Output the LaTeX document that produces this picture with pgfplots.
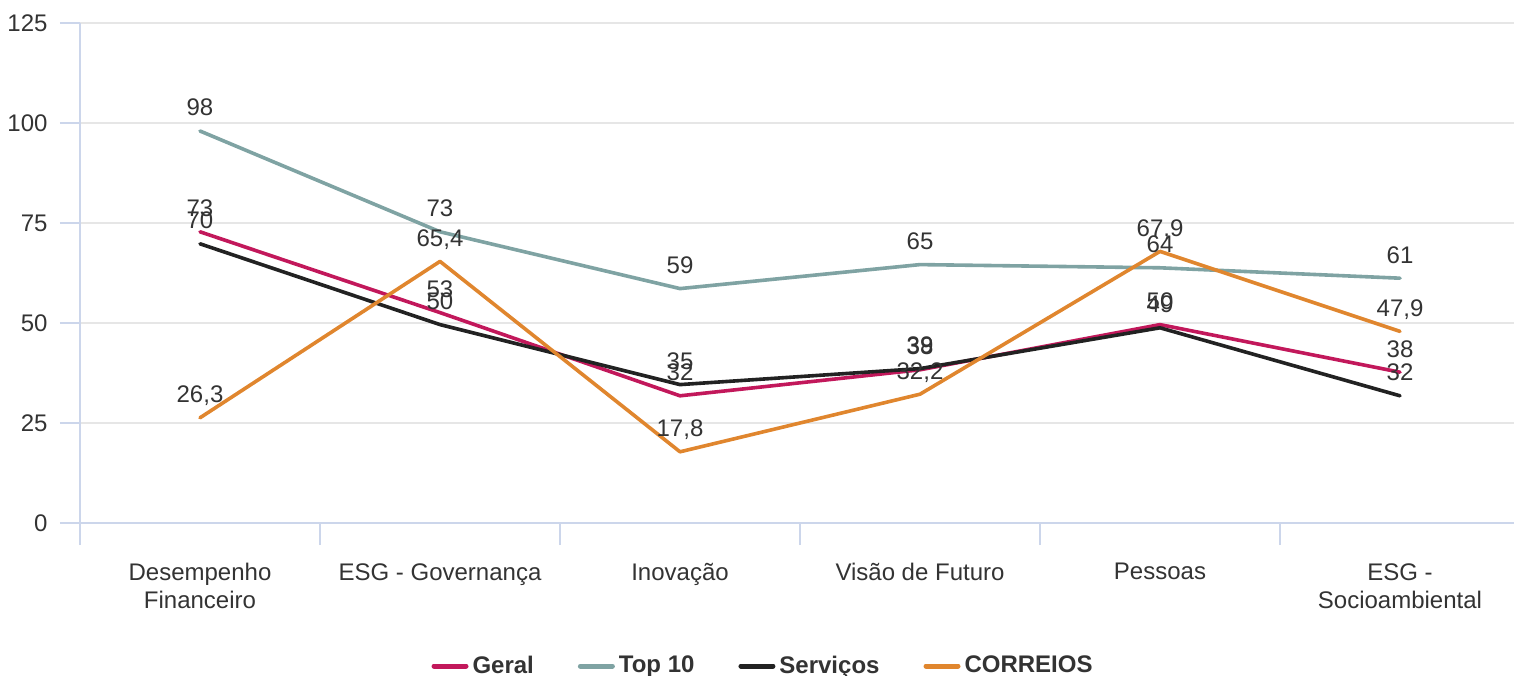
\documentclass[border=0pt]{standalone}
\usepackage{pgfplots}
\pgfplotsset{compat=1.18}
\usepackage{pgfplotstable}
\usepackage{fontspec}
\setmainfont{Liberation Sans}
\definecolor{cGeral}{HTML}{C2185B}
\definecolor{cTop}{HTML}{7FA3A3}
\definecolor{cServ}{HTML}{222222}
\definecolor{cCorr}{HTML}{E0862E}
\definecolor{cGrid}{HTML}{E6E6E6}
\definecolor{cAxis}{HTML}{CCD6EB}
\definecolor{cText}{HTML}{333333}

\pgfplotstableread{
x y lab
0 72.8 73
1 52.6 53
2 31.8 32
3 38.3 38
4 49.6 50
5 37.7 38
}\geral
\pgfplotstableread{
x y lab
0 98.0 98
1 72.8 73
2 58.6 59
3 64.6 65
4 63.8 64
5 61.2 61
}\topten
\pgfplotstableread{
x y lab
0 69.8 70
1 49.6 50
2 34.6 35
3 38.6 39
4 48.8 49
5 31.8 32
}\servicos
\pgfplotstableread{
x y lab
0 26.3 {26,3}
1 65.4 {65,4}
2 17.8 {17,8}
3 32.2 {32,2}
4 67.9 {67,9}
5 47.9 {47,9}
}\correios

\begin{document}
\begin{tikzpicture}
\path[use as bounding box] (0,0) rectangle (757pt,337.5pt);
\begin{axis}[
  at={(40pt,76pt)}, anchor=south west,
  width=717pt, height=250pt, scale only axis,
  xmin=-0.5, xmax=5.475, ymin=0, ymax=125,
  axis x line*=bottom, axis y line*=left,
  axis line style={cAxis, line width=1pt, -},
  tick align=outside,
  major tick length=10pt,
  ytick={0,25,...,125},
  ytick style={cAxis, line width=1pt},
  ymajorgrids, grid style={cGrid, line width=0.9pt},
  yticklabel style={font=\fontsize{12}{14}\selectfont, text=cText, xshift=-2.7pt},
  /pgf/number format/assume math mode=true,
  xtick={0,...,5},
  xtick style={draw=none},
  xticklabels={{Desempenho\\Financeiro},{ESG - Governança},{Inovação},{Visão de Futuro},{Pessoas},{ESG -\\Socioambiental}},
  xticklabel style={font=\fontsize{12}{14}\selectfont, text=cText, align=center, anchor=north, yshift=-6.6pt},
  extra x ticks={-0.5,0.5,1.5,2.5,3.5,4.5},
  extra x tick labels={},
  extra x tick style={xtick style={draw=cAxis, line width=1pt}, major tick length=11pt, grid=none},
  legend style={at={(0.477,-0.286)}, anchor=center, draw=none, fill=none,
    font=\fontsize{12}{14}\selectfont\bfseries, text=cText,
    /tikz/every even column/.append style={column sep=20pt}},
  legend columns=4,
  legend image code/.code={\draw[#1, line width=2.5pt, line cap=round] (0,0) -- (16pt,0);},
  every axis plot/.append style={line width=1.8pt, line cap=round, line join=round, mark=none},
  clip=false,
]
\addplot[cGeral] table[x=x,y=y] {\geral};
\addlegendentry{Geral}
\addplot[cTop] table[x=x,y=y] {\topten};
\addlegendentry{Top 10}
\addplot[cServ] table[x=x,y=y] {\servicos};
\addlegendentry{Serviços}
\addplot[cCorr] table[x=x,y=y] {\correios};
\addlegendentry{CORREIOS}
\pgfplotsset{lbl/.style={draw=none, forget plot, nodes near coords, point meta=explicit symbolic,
  every node near coord/.style={anchor=base, yshift=7.5pt, inner sep=0pt, text=cText, font=\fontsize{12}{14}\selectfont}}}
\addplot[lbl] table[x=x,y=y,meta=lab] {\geral};
\addplot[lbl] table[x=x,y=y,meta=lab] {\topten};
\addplot[lbl] table[x=x,y=y,meta=lab] {\servicos};
\addplot[lbl] table[x=x,y=y,meta=lab] {\correios};
\end{axis}
\end{tikzpicture}
\end{document}
